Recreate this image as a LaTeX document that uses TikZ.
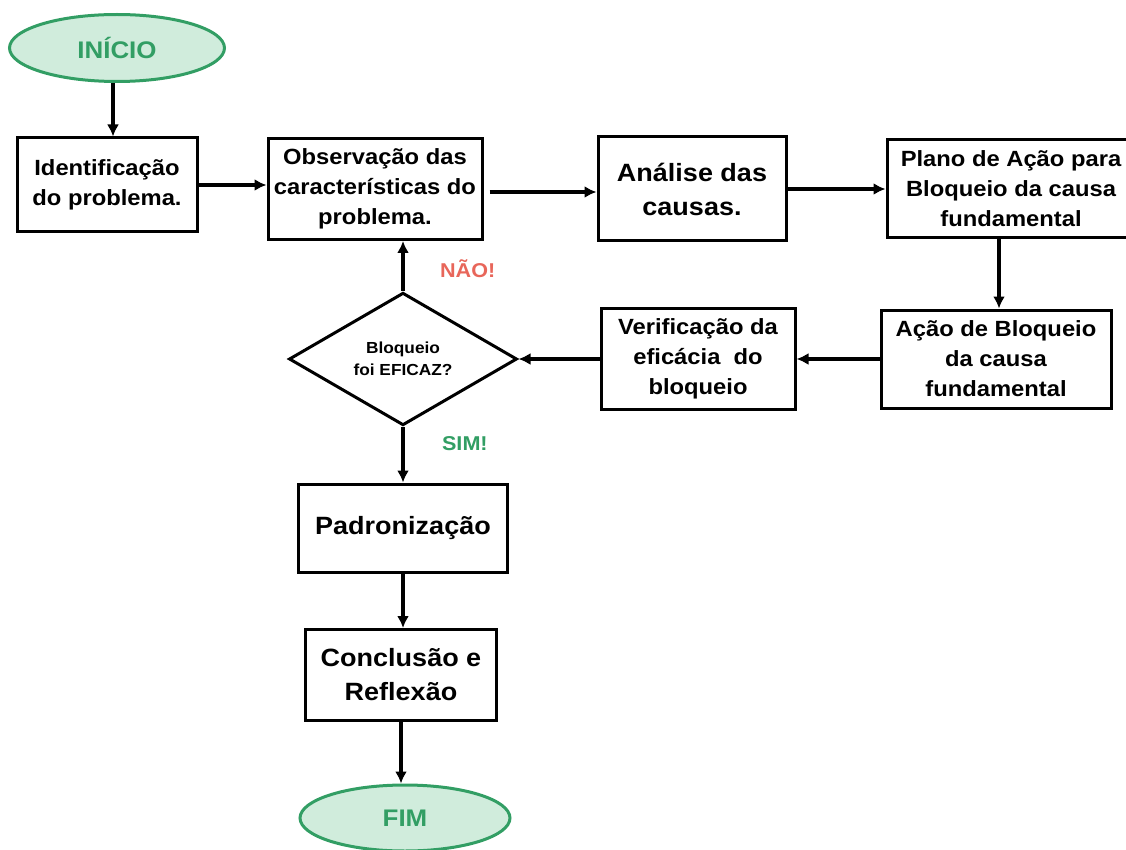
\documentclass[tikz,border=0pt]{standalone}
\usepackage{fontspec}
\setmainfont{Liberation Sans}[FakeStretch=1.08]
\usepackage{tikz}
\usetikzlibrary{arrows.meta,positioning,shapes.geometric}
\definecolor{startgreen}{RGB}{50,158,100}
\definecolor{startfill}{RGB}{208,236,220}
\definecolor{naored}{RGB}{232,102,90}
\tikzset{%
	block/.style    = {draw, rectangle, line width=3pt, align=center, font=\fontsize{22}{30}\selectfont\bfseries},
	bigblock/.style = {block, font=\fontsize{25}{34}\selectfont\bfseries},
	terminal/.style = {draw=startgreen, fill=startfill, ellipse, line width=3pt, text=startgreen, font=\fontsize{24}{28}\selectfont\bfseries},
	decision/.style = {draw, diamond, line width=3pt, align=center, inner sep=0pt, font=\fontsize{16}{22}\selectfont\bfseries},
	arrow/.style    = {line width=3.5pt, -{Latex[length=12pt,width=12pt]}},
	answer/.style   = {font=\fontsize{20}{24}\selectfont\bfseries},
}
\begin{document}
\begin{tikzpicture}[x=1pt,y=1pt]
		\useasboundingbox (0,0) rectangle (1126,-850);
		\node [terminal, minimum width=215, minimum height=67] (inicio) at (117,-48) {INÍCIO};
		\node [block, minimum width=180, minimum height=94] (ident) [below of=inicio, node distance=137, xshift=-10] {Identificação\\do problema.};
		\node [block, minimum width=214, minimum height=101] (obs) [right of=ident, node distance=268, yshift=-4] {Observação das\\características do\\problema.};
		\node [bigblock, minimum width=188, minimum height=104] (analise) [right of=obs, node distance=317] {Análise das\\causas.};
		\node [block, minimum width=248, minimum height=98] (plano) [right of=analise, node distance=319] {Plano de Ação para\\Bloqueio da causa\\fundamental};
		\node [block, minimum width=230, minimum height=98] (acao) [below of=plano, node distance=170, xshift=-15] {Ação de Bloqueio\\da causa\\fundamental};
		\node [block, minimum width=194, minimum height=101] (verif) [left of=acao, node distance=298] {Verificação da\\eficácia\ \ do\\bloqueio};
		\node [decision, minimum width=228, minimum height=131] (bloq) [left of=verif, node distance=295] {Bloqueio\\foi EFICAZ?};
		\node [bigblock, minimum width=209, minimum height=88] (padr) [below of=bloq, node distance=169] {Padronização};
		\node [bigblock, minimum width=191, minimum height=91] (concl) [below of=padr, node distance=147, xshift=-2] {Conclusão e\\Reflexão};
		\node [terminal, minimum width=210, minimum height=66] (fim) [below of=concl, node distance=143, xshift=4] {FIM};
		\draw[arrow] (inicio.south -| ident.north) ++(6,0) coordinate (a1) -- (a1 |- ident.north);
		\draw[arrow] (ident) -- (ident -| obs.west);
		\draw[arrow] (obs) ++(0,-3) coordinate (a2) (obs.east |- a2) ++(6,0) -- (analise.west |- a2);
		\draw[arrow] (analise.east) -- (plano.west |- analise.east);
		\draw[arrow] (plano.south -| acao.north) ++(3,0) coordinate (a3) -- (a3 |- acao.north);
		\draw[arrow] (acao.west) -- (verif.east |- acao.west);
		\draw[arrow] (verif.west) -- (bloq.east);
		\draw[arrow] (bloq.north) -- (bloq.north |- obs.south) node[answer, pos=0.45, right=32, text=naored] {NÃO!};
		\draw[arrow] (bloq.south) -- (padr.north) node[answer, pos=0.3, right=34, text=startgreen] {SIM!};
		\draw[arrow] (padr.south) -- (padr.south |- concl.north);
		\draw[arrow] (concl.south) -- (concl.south |- fim.north);
\end{tikzpicture}
\end{document}
